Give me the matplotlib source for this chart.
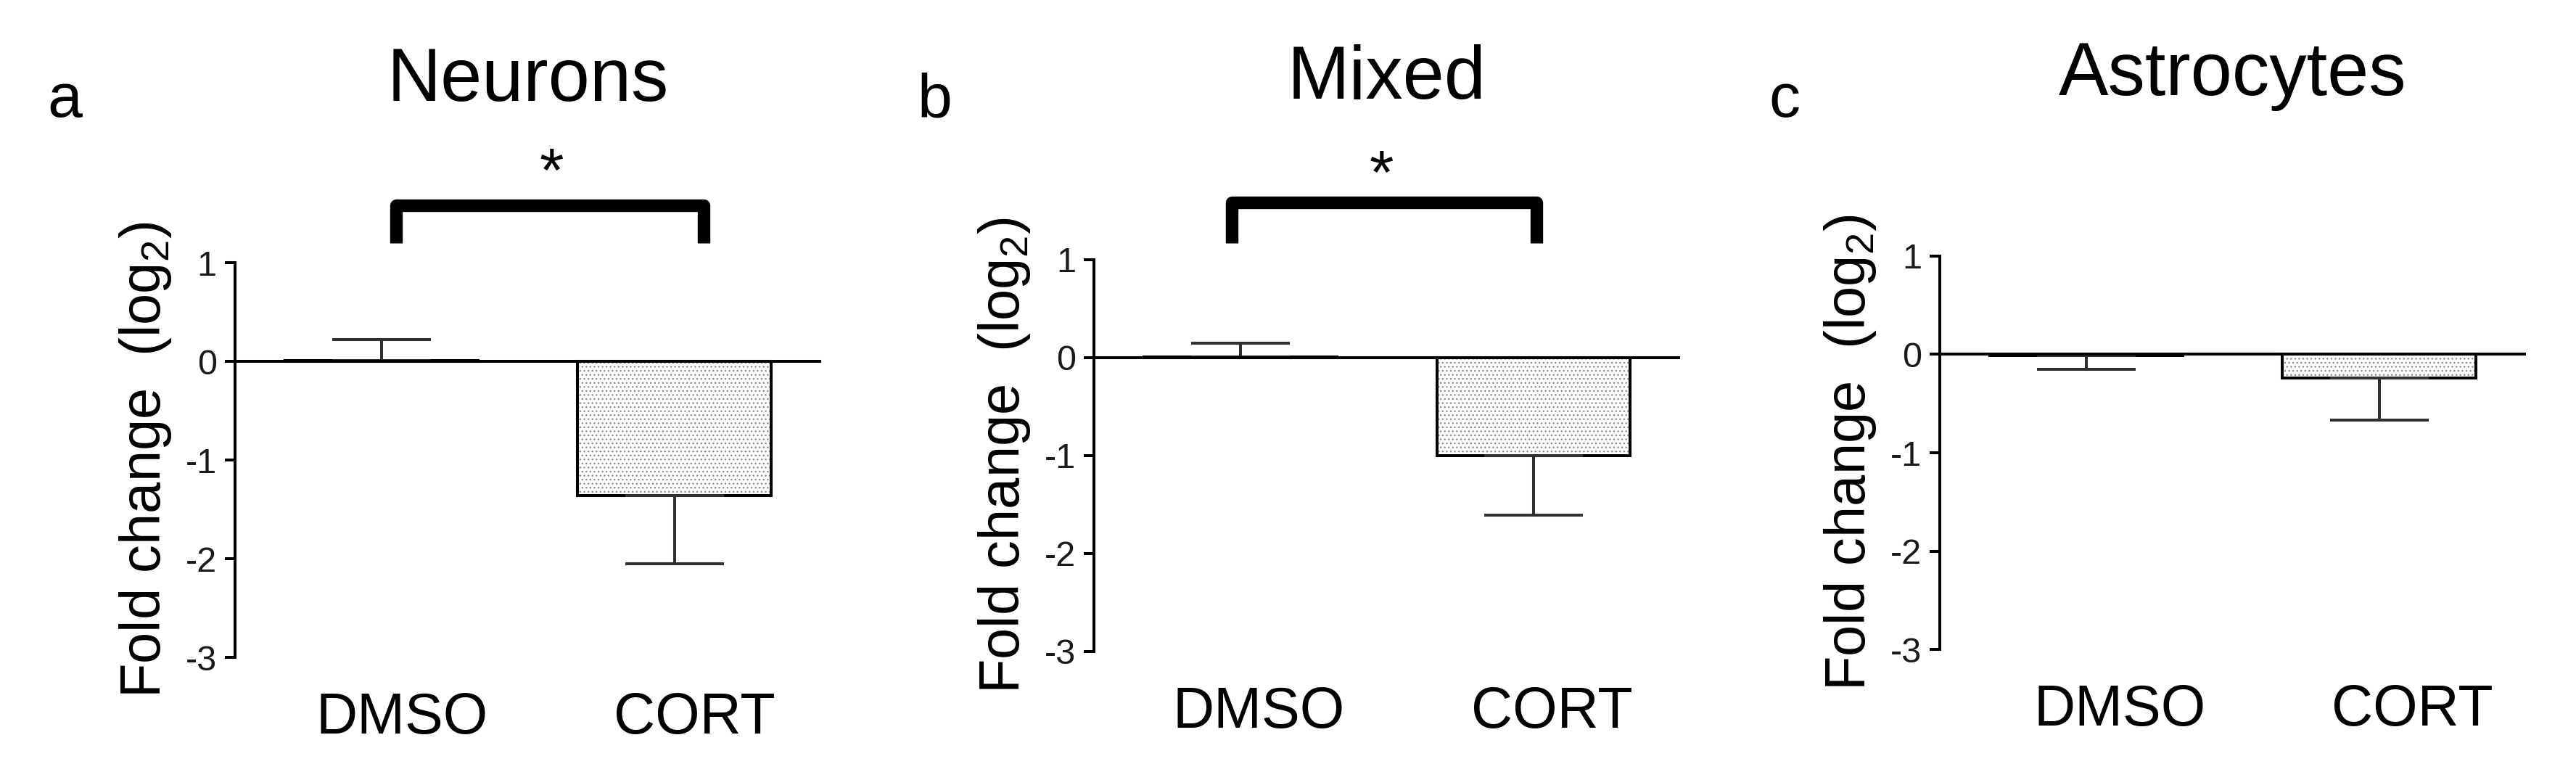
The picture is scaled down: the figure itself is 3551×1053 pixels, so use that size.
import matplotlib
matplotlib.use('Agg')
import matplotlib.pyplot as plt
from matplotlib.transforms import ScaledTranslation
import numpy as np

#Dados
groups = ['DMSO', 'CORT']
titles = ['Neurons', 'Mixed', 'Astrocytes']
letters = ['a', 'b', 'c']
means = {
    'Neurons': [0.01, -1.36],
    'Mixed': [0.01, -1.00],
    'Astrocytes': [-0.01, -0.24],
}
errors = {
    'Neurons': [0.21, 0.69],
    'Mixed': [0.14, 0.61],
    'Astrocytes': [0.14, 0.43],
}
yticks = [1, 0, -1, -2, -3]
#colchete de significância: (x esquerdo, x direito, y topo, y pernas, x estrela, y estrela)
brackets = {
    'Neurons': (0.05, 1.10, 1.58, 1.20, 0.58, 1.95),
    'Mixed': (-0.03, 1.01, 1.58, 1.17, 0.48, 1.90),
}

def main():
    plt.rcParams['font.family'] = ['Liberation Sans', 'DejaVu Sans']
    plt.rcParams['mathtext.default'] = 'regular'
    plt.rcParams['axes.unicode_minus'] = False

    fig = plt.figure(figsize=(35.51, 10.53), dpi=100)
    #posição de cada painel (esquerda, baixo, largura, altura) em fração da figura
    rects = [(0.0912, 0.1396, 0.2275, 0.5166),
             (0.4247, 0.1472, 0.2275, 0.5130),
             (0.7530, 0.1500, 0.2275, 0.5148)]
    letter_x = [0.0183, 0.3562, 0.6866]
    label_shift = [28, 25, 46]  #deslocamento dos rótulos DMSO/CORT em px

    lw = 2.9
    x = np.arange(len(groups))
    for i, name in enumerate(titles):
        ax = fig.add_axes(rects[i])
        m = np.array(means[name])
        e = np.array(errors[name])

        #barras: pontilhado cinza + contorno preto
        ax.bar(x, m, width=0.66, color='white', edgecolor='#8c8c8c',
               hatch=['', '...'], linewidth=0, zorder=2)
        ax.bar(x, m, width=0.66, fill=False, edgecolor='black',
               linewidth=lw, zorder=3)

        #barras de erro só para o lado da média
        lower = np.where(m < 0, e, 0)
        upper = np.where(m >= 0, e, 0)
        ax.errorbar(x, m, yerr=[lower, upper], fmt='none', ecolor='#303030',
                    elinewidth=lw, capsize=49, capthick=lw, zorder=4)

        ax.axhline(0, color='black', linewidth=lw, zorder=5)

        ax.set_xlim(-0.5, 1.5)
        ax.set_ylim(-3, 1)
        ax.set_yticks(yticks)
        ax.set_yticklabels([str(t) for t in yticks])
        ax.set_xticks(x)
        ax.set_xticklabels(groups, fontsize=57)
        ax.tick_params(axis='x', length=0, pad=34)
        ax.tick_params(axis='y', direction='out', length=10, width=lw,
                       labelsize=35, pad=8, labelcolor='#1a1a1a')
        #tick_params refaz as transformações, então o deslocamento vem depois
        shift = ScaledTranslation(label_shift[i] / 100, 0, fig.dpi_scale_trans)
        for lab in ax.get_xticklabels():
            lab.set_transform(lab.get_transform() + shift)
        for s in ['top', 'right', 'bottom']:
            ax.spines[s].set_visible(False)
        ax.spines['left'].set_linewidth(lw)
        ax.spines['left'].set_bounds(-3, 1)

        ax.set_ylabel('Fold change  (log$_2$)', fontsize=56, labelpad=12)
        ax.set_title(name, fontsize=74, y=1.41, pad=0)
        fig.text(letter_x[i], 0.847, letters[i], fontsize=62,
                 ha='left', va='baseline')

        #colchete e asterisco
        if name in brackets:
            x0, x1, ytop, yleg, xs, ys = brackets[name]
            ax.plot([x0, x0, x1, x1], [yleg, ytop, ytop, yleg], color='black',
                    linewidth=12.5, solid_joinstyle='round',
                    solid_capstyle='butt', clip_on=False)
            ax.text(xs, ys, '*', fontsize=62, ha='center', va='center_baseline',
                    clip_on=False)

    fig.savefig('out.png', dpi=100, facecolor='white')

if __name__ == '__main__':
    main()
